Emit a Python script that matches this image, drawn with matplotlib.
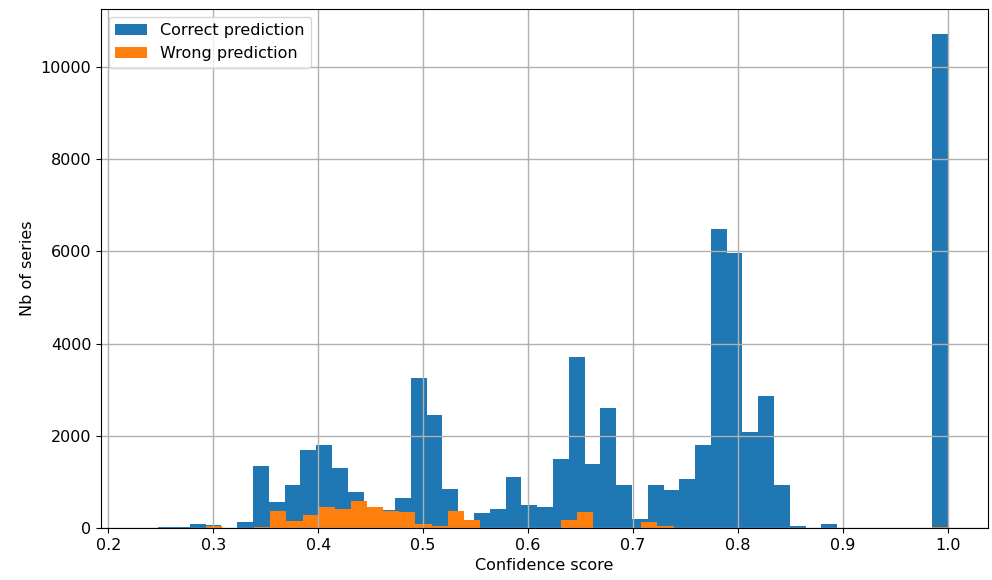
import numpy as np
import matplotlib.pyplot as plt

# histogram counts per bin, 50 bins each
correct_range = (0.2475, 1.0)
correct_counts = [25, 25, 95, 70, 0, 130, 1345, 565, 925, 1690,
                  1800, 1290, 790, 430, 380, 640, 3250, 2450, 840, 150,
                  333, 413, 1115, 492, 457, 1500, 3710, 1390, 2600, 935,
                  196, 935, 826, 1072, 1800, 6490, 5955, 2080, 2870, 935,
                  36, 0, 80, 0, 0, 0, 0, 0, 0, 10720]

wrong_range = (0.2313, 1.0)
wrong_counts = [0, 0, 0, 0, 40, 0, 10, 15, 370, 150,
                275, 460, 420, 590, 460, 375, 355, 90, 40, 375,
                175, 0, 0, 0, 0, 0, 175, 345, 0, 0,
                0, 140, 40, 0, 0, 0, 0, 0, 0, 0,
                0, 0, 0, 0, 0, 0, 0, 0, 0, 25]

ok_edges = np.linspace(*correct_range, len(correct_counts) + 1)
ko_edges = np.linspace(*wrong_range, len(wrong_counts) + 1)

fig = plt.figure(figsize=(9.92, 5.8), dpi=100)
ax = fig.add_axes([0.1018, 0.0897, 0.8942, 0.8948])

ax.hist(ok_edges[:-1], bins=ok_edges, weights=correct_counts,
        color='#1f77b4', label='Correct prediction')
ax.hist(ko_edges[:-1], bins=ko_edges, weights=wrong_counts,
        color='#ff7f0e', label='Wrong prediction')

ax.grid(True, color='#b0b0b0', linewidth=1)
ax.set_xticks(np.arange(0.2, 1.01, 0.1))
ax.set_yticks(np.arange(0, 10001, 2000))
ax.tick_params(labelsize=11.5)
ax.set_xlabel('Confidence score', fontsize=11.5)
ax.set_ylabel('Nb of series', fontsize=11.5)
ax.legend(loc='upper left', fontsize=11.5)

fig.savefig('out.png', dpi=100)
